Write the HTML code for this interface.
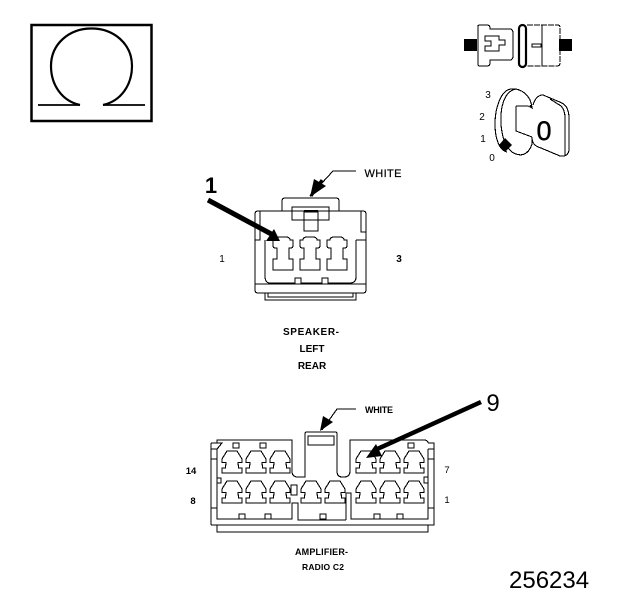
<!DOCTYPE html>
<html>
<head>
<meta charset="utf-8">
<style>
html,body{margin:0;padding:0;background:#fff;width:624px;height:600px;overflow:hidden}
svg{display:block}
text{font-family:"Liberation Sans",sans-serif;fill:#000}
.l{fill:none;stroke:#000;stroke-width:1.1;shape-rendering:crispEdges}
.b{font-weight:bold;font-size:10px;text-anchor:middle}
.s{font-size:10px;text-anchor:middle}
</style>
</head>
<body>
<svg width="624" height="600" viewBox="0 0 624 600" xmlns="http://www.w3.org/2000/svg">
<defs>
<path id="c" class="l" d="M-5,0H5L10,8V11.500H6V14H6.500V17H10V22H-10V17H-6.500V14H-6V11.500H-10V8Z"/>
<path id="s" class="l" d="M-7,3Q-7,0 -3,0H3Q7,0 7,3H10V9Q10,11 7,11H6V22H10V33H-10V22H-6V11H-7Q-10,11 -10,9V3Z"/>
</defs>

<!-- Omega -->
<rect x="31.500" y="25" width="120" height="96" fill="none" stroke="#000" stroke-width="2.500"/>
<path d="M80,105C62,101 51,85 51,66C51,44 69,28.500 91.500,28.500C114,28.500 132,44 132,66C132,85 121,101 103,105" fill="none" stroke="#000" stroke-width="2.200"/>
<path d="M38,105H80M103,105H145" stroke="#000" stroke-width="1.800" fill="none"/>

<!-- Plug -->
<rect x="464" y="39" width="13" height="12" fill="#000"/>
<rect x="559" y="39" width="13" height="12" fill="#000"/>
<path class="l" d="M478,26Q478,25 480,25H487Q490,25 490,28V29H510Q513,29 513,33V56Q513,60 510,60H490V63Q490,66 487,66H480Q478,66 478,64Z"/>
<path class="l" d="M485,36H499V40H505V45H499V51H485V46H491V41H485Z"/>
<rect x="519" y="25" width="7" height="42" rx="3.500" fill="none" stroke="#000" stroke-width="2.200"/>
<path class="l" stroke-dasharray="6 1" d="M527,25H558Q560,25 560,28V63Q560,66 557,66H527"/>
<path class="l" d="M542,25V66"/>
<rect x="532" y="44" width="9" height="3" class="l"/>

<!-- Key -->
<path class="l" d="M511,89C501,90 495,108 495,124C495,138 499,150 507,152"/>
<path class="l" d="M516,89C504,91 500,108 501,124C502,137 505,146 512,152"/>
<path class="l" d="M511,89C521,88 531,95 532,108"/>
<path class="l" d="M516,106H528L532,108L530,105M516,106V131L532,137M512,152C520,157 528,156 532,144L532,137"/>
<path class="l" d="M533,105Q536,95 543,95L562,103Q569,107 569,118V150Q568,157 560,156L541,148C533,146 532,141 532,137"/>
<path class="l" d="M550,99L561,106Q565,110 565,118V155"/>
<path fill="#000" d="M505,138L512,145L505,152L499,145Z"/>
<text x="544" y="140" font-size="27" text-anchor="middle" stroke="#000" stroke-width=".4">0</text>
<text x="488" y="98" font-size="10" text-anchor="middle">3</text>
<text x="482" y="120" font-size="10" text-anchor="middle">2</text>
<text x="483" y="142" font-size="10" text-anchor="middle">1</text>
<text x="492" y="161" font-size="10" text-anchor="middle">0</text>

<!-- Speaker connector -->
<path class="l" d="M282,211V201Q282,198 285,198H336Q339,198 339,201V211"/>
<path class="l" d="M292,211V207H329V211M292,207V220H329V207"/>
<rect x="304" y="211" width="14" height="20" class="l" fill="#fff"/>
<rect x="304" y="210" width="14" height="2.500" fill="#000"/>
<path class="l" d="M255,214Q255,211 258,211H363Q366,211 366,214V290Q366,293 363,293H258Q255,293 255,290Z"/>
<path class="l" d="M260,211V240H255M361,211V232H366M356,240H366V285M255,240V285M265,240V276Q265,283 270,283H295V278H301V283H322V278H328V283H350Q356,283 356,277V240"/>
<path class="l" d="M255,284H366M265,293V300H356V293M268,293V297H353V293"/>
<use href="#s" x="283" y="237"/>
<use href="#s" x="310" y="237"/>
<use href="#s" x="337" y="237"/>
<path d="M208,200L275,236" stroke="#000" stroke-width="5" fill="none"/>
<path d="M280,241L266,241L274,229Z" fill="#000"/>
<path class="l" d="M310,196L333,171H356"/>
<path d="M310,197L314,179L326,186Z" fill="#000"/>
<path d="M311,196L322,180" stroke="#000" stroke-width="3"/>
<text x="383" y="177" font-size="11" text-anchor="middle" textLength="37" stroke="#000" stroke-width=".2">WHITE</text>
<text x="211" y="193" font-size="22" font-weight="bold" text-anchor="middle">1</text>
<text x="222" y="262" class="s">1</text>
<text x="399" y="262" class="s" font-weight="bold">3</text>
<text x="283" y="335" font-size="10" font-weight="bold" textLength="56">SPEAKER-</text>
<text x="312" y="352" class="b">LEFT</text>
<text x="312" y="369" class="b">REAR</text>

<!-- Amplifier connector -->
<path class="l" d="M217,443V440H292V471Q292,477 298,477H305V434Q305,432 307,432H335Q337,432 337,434V471Q337,477 342,477H344Q350,477 350,471V440H424Q428,440 428,443"/>
<rect x="308" y="436" width="26" height="9" class="l"/>
<path class="l" d="M211,443H222L217,449V519H292V503H298V520H346M211,443V525M211,449H217M211,459H217M211,508H217M217,478H221V483H217"/>
<path class="l" d="M213,525H434V443H428M428,449H434M428,459H434M428,508H434M428,477H424V483H428M428,449V519H351V493H346V520"/>
<path class="l" d="M217,525V532H428V525M211,525H216"/>
<rect x="233" y="443" width="6" height="5" class="l"/>
<rect x="260" y="443" width="6" height="5" class="l"/>
<rect x="408" y="443" width="6" height="5" class="l"/>
<rect x="291" y="485" width="6" height="10" class="l"/>
<rect x="239" y="514" width="6" height="5" class="l"/>
<rect x="265" y="514" width="6" height="5" class="l"/>
<rect x="320" y="514" width="6" height="5" class="l"/>
<rect x="374" y="514" width="6" height="5" class="l"/>
<rect x="397" y="514" width="6" height="5" class="l"/>
<use href="#c" x="232" y="451"/>
<use href="#c" x="256" y="451"/>
<use href="#c" x="280" y="451"/>
<use href="#c" x="366" y="451"/>
<use href="#c" x="390" y="451"/>
<use href="#c" x="414" y="451"/>
<use href="#c" x="232" y="481"/>
<use href="#c" x="256" y="481"/>
<use href="#c" x="280" y="481"/>
<use href="#c" x="311" y="481"/>
<use href="#c" x="335" y="481"/>
<use href="#c" x="366" y="481"/>
<use href="#c" x="390" y="481"/>
<use href="#c" x="414" y="481"/>
<path d="M481,402L375,450" stroke="#000" stroke-width="4.500" fill="none"/>
<path d="M366,458L376,444L382,456Z" fill="#000"/>
<path class="l" d="M322,430L337,409H356"/>
<path d="M320,431L323,416L333,422Z" fill="#000"/>
<text x="365" y="413" font-size="9" font-weight="bold" textLength="28">WHITE</text>
<text x="493" y="411" font-size="24" text-anchor="middle">9</text>
<text x="191" y="474" font-size="9.500" text-anchor="middle" font-weight="bold">14</text>
<text x="193" y="504" font-size="9.500" text-anchor="middle" font-weight="bold">8</text>
<text x="447" y="473" font-size="9.500" text-anchor="middle">7</text>
<text x="447" y="503" font-size="9.500" text-anchor="middle">1</text>
<text x="295" y="555" font-size="9" font-weight="bold" textLength="53">AMPLIFIER-</text>
<text x="302" y="570" font-size="8.500" font-weight="bold" textLength="42">RADIO C2</text>
<text x="509" y="588" font-size="24">256234</text>
</svg>
</body>
</html>
